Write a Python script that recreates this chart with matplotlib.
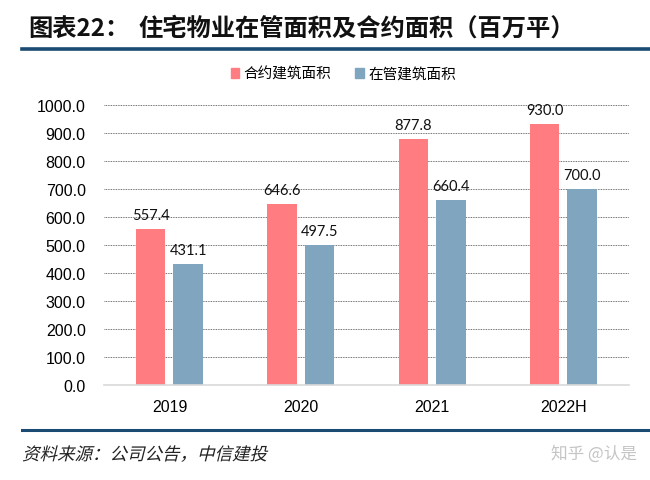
import numpy as np
import matplotlib
matplotlib.use('Agg')
from matplotlib import pyplot as plt
from matplotlib.lines import Line2D
from matplotlib.patches import Rectangle, PathPatch
from matplotlib.textpath import TextPath
from matplotlib.font_manager import FontProperties
from matplotlib.transforms import Affine2D

plt.rcParams['font.family'] = ['Noto Sans CJK SC', 'DejaVu Sans']

# data
years = ['2019', '2020', '2021', '2022H']
contracted = [557.4, 646.6, 877.8, 930.0]   # 合约建筑面积
managed = [431.1, 497.5, 660.4, 700.0]      # 在管建筑面积
series_names = ['合约建筑面积', '在管建筑面积']
yticks = np.arange(0, 1001, 100)

pink = '#FF7C80'
blue = '#7FA5BF'
navy = '#1B4A72'

fig = plt.figure(figsize=(6.5, 4.81), dpi=100)
ax = fig.add_axes([0.1597, 0.1981, 0.808, 0.582])

x = np.arange(len(years))
w = 0.225
off = 0.143
b1 = ax.bar(x - off, contracted, w, color=pink, zorder=3)
b2 = ax.bar(x + off, managed, w, color=blue, zorder=3)

# value labels
for bars, vals in [(b1, contracted), (b2, managed)]:
    for rect, v in zip(bars, vals):
        ax.annotate(f'{v:.1f}', (rect.get_x() + rect.get_width() / 2, v),
                    xytext=(0, 5), textcoords='offset points',
                    ha='center', va='bottom', fontsize=10.5,
                    family=['Lato', 'DejaVu Sans'], color='#111111', zorder=4)

ax.set_xlim(-0.5, len(years) - 0.5)
ax.set_ylim(0, 1000)
ax.set_yticks(yticks)
ax.set_yticklabels([f'{t:.1f}' for t in yticks], family='Liberation Sans', fontsize=11.5)
ax.set_xticks(x)
ax.set_xticklabels(years, family='Liberation Sans', fontsize=11.5)
ax.tick_params(axis='both', length=0)
ax.tick_params(axis='y', pad=13)
ax.tick_params(axis='x', pad=10)

ax.yaxis.grid(True, color='#444444', linestyle=(0, (1, 1)), linewidth=0.6, zorder=0)
ax.set_axisbelow(True)
for s in ['top', 'right', 'left']:
    ax.spines[s].set_visible(False)
ax.spines['bottom'].set_color('#d9d9d9')
ax.spines['bottom'].set_linewidth(1.2)
ax.spines['bottom'].set_zorder(5)

# legend
handles = [Rectangle((0, 0), 1, 1, color=pink), Rectangle((0, 0), 1, 1, color=blue)]
fig.legend(handles, series_names, loc='center', bbox_to_anchor=(0.528, 0.844),
           ncol=2, frameon=False, fontsize=10.5, handlelength=0.6, handleheight=0.6,
           handletextpad=0.3, columnspacing=1.6)

# title and rules
fig.text(28 / 650, 1 - 29 / 481, '图表22：', fontsize=17.5, fontweight='bold',
         va='center', ha='left', color='#111111')
fig.text(138 / 650, 1 - 29 / 481, '住宅物业在管面积及合约面积（百万平）', fontsize=17.5,
         fontweight='bold', va='center', ha='left', color='#111111')
fig.add_artist(Line2D([22 / 650, 1], [1 - 49.5 / 481] * 2, color=navy, lw=2.6))
fig.add_artist(Line2D([22 / 650, 1], [1 - 430.5 / 481] * 2, color=navy, lw=2.2))

# slanted source note (the font has no italic, so shear the glyph outlines)
fp = FontProperties(family='Noto Sans CJK SC', weight='light')
tp = TextPath((0, 0), '资料来源：公司公告，中信建投', size=17.5, prop=fp)
tr = Affine2D().skew_deg(14, 0).translate(22, 481 - 461) + fig.dpi_scale_trans.frozen().scale(1 / 100)
fig.add_artist(PathPatch(tp, transform=tr, color='#222222', lw=0))

fig.text(637 / 650, 1 - 454 / 481, '知乎 @认是', fontsize=12, va='center', ha='right',
         color='#c4c4c4')

fig.savefig('out.png', dpi=100)
